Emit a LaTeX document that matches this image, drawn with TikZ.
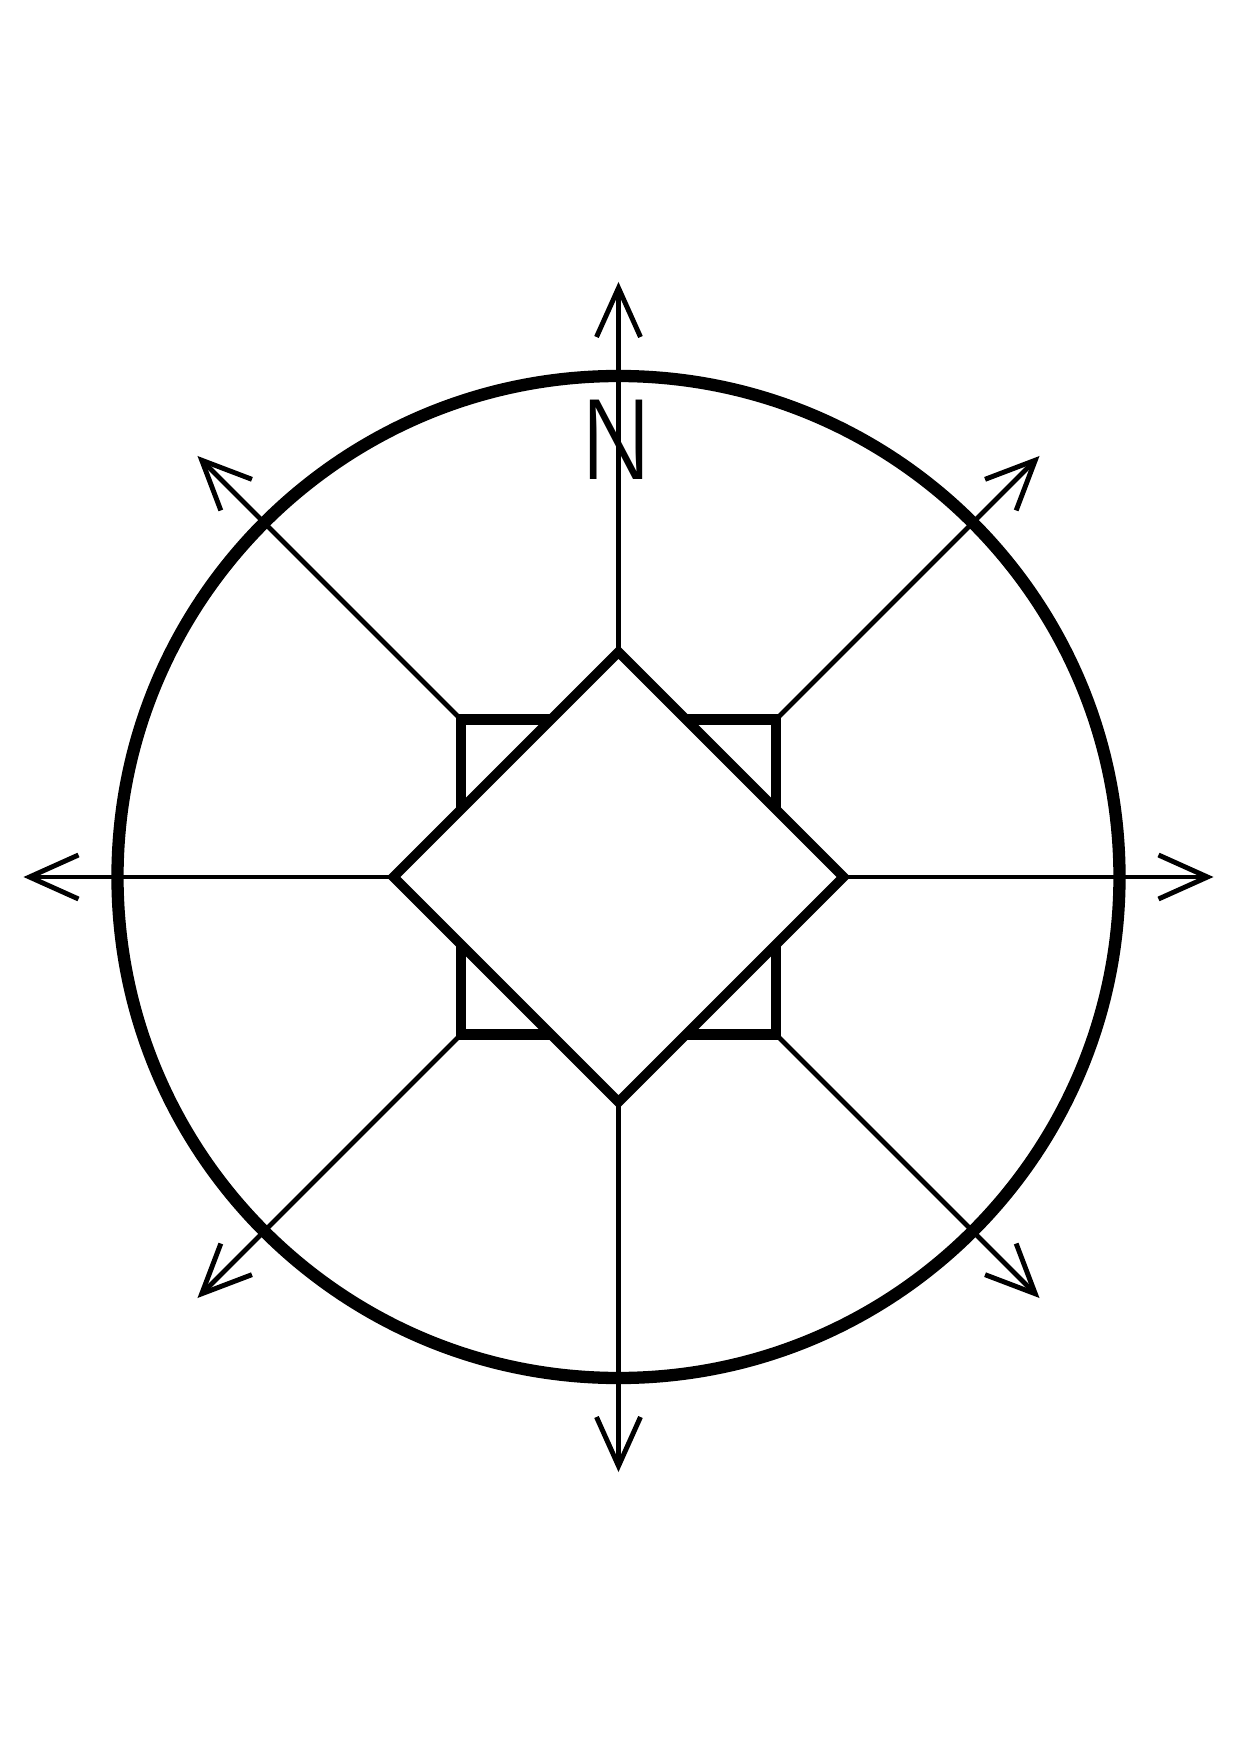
\documentclass[tikz,border=0pt]{standalone}
\usepackage{fontspec}
\newfontfamily\compassfont{Fira Sans Light}
\usetikzlibrary{arrows.meta}

\begin{document}
\begin{tikzpicture}[x=0.02cm, y=0.02cm,
        rim/.style={line width=7pt},
        rose/.style={line width=5.6pt, line join=miter},
        notch/.style={line width=5.7pt, line join=miter},
        ray/.style={-{Straight Barb[length=0.98cm, width=0.88cm]}, line width=2.8pt},
        letter/.style={font=\compassfont\fontsize{66}{66}\selectfont, inner sep=0pt, anchor=base}
    ]
        \path[use as bounding box] (-618.5, -871) rectangle (621.5, 877);

        % diamond corners
        \coordinate (dn) at (0, 225);
        \coordinate (de) at (225, 0);
        \coordinate (ds) at (0, -225);
        \coordinate (dw) at (-225, 0);

        % outer corners of the notches
        \coordinate (qne) at (157.5, 157.5);
        \coordinate (qse) at (157.5, -157.5);
        \coordinate (qsw) at (-157.5, -157.5);
        \coordinate (qnw) at (-157.5, 157.5);

        % arrow tips
        \coordinate (tn) at (0, 595);
        \coordinate (te) at (595, 0);
        \coordinate (ts) at (0, -595);
        \coordinate (tw) at (-595, 0);
        \coordinate (tne) at (421, 421);
        \coordinate (tse) at (421, -421);
        \coordinate (tsw) at (-421, -421);
        \coordinate (tnw) at (-421, 421);

        \draw[rim] (0, 0) circle (501);

        \node[letter] (north) at (-1.5, 397) {N};

        \draw[ray] (dn) -- (tn);
        \draw[ray] (de) -- (te);
        \draw[ray] (ds) -- (ts);
        \draw[ray] (dw) -- (tw);
        \draw[ray] (qne) -- (tne);
        \draw[ray] (qse) -- (tse);
        \draw[ray] (qsw) -- (tsw);
        \draw[ray] (qnw) -- (tnw);

        \draw[notch] (67.5, 157.5) -- (qne) -- (157.5, 67.5);
        \draw[notch] (157.5, -67.5) -- (qse) -- (67.5, -157.5);
        \draw[notch] (-67.5, -157.5) -- (qsw) -- (-157.5, -67.5);
        \draw[notch] (-157.5, 67.5) -- (qnw) -- (-67.5, 157.5);

        \draw[rose] (dn) -- (de) -- (ds) -- (dw) -- cycle;
    \end{tikzpicture}
\end{document}
